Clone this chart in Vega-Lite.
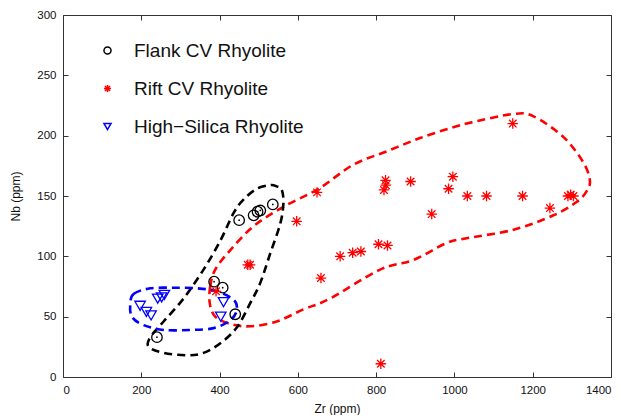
{
  "$schema": "https://vega.github.io/schema/vega-lite/v6.json",
  "width": 548,
  "height": 362,
  "padding": {"left": 9, "top": 9, "right": 16, "bottom": 0},
  "background": "white",
  "config": {
    "font": "Liberation Sans",
    "view": {"stroke": null},
    "axis": {
      "grid": false,
      "domainColor": "#333333",
      "tickColor": "#333333",
      "tickSize": -5,
      "labelFontSize": 11.5,
      "labelColor": "#111111",
      "titleFontSize": 12,
      "titleFontWeight": "normal",
      "titleColor": "#111111",
      "labelPadding": 12
    },
    "legend": {
      "labelFontSize": 19,
      "labelColor": "#111111",
      "labelFont": "Liberation Sans",
      "labelLimit": 400
    }
  },
  "datasets": {
    "pts": [
      {"zr": 240, "nb": 33, "group": "Flank CV Rhyolite"},
      {"zr": 450, "nb": 130, "group": "Flank CV Rhyolite"},
      {"zr": 487, "nb": 134, "group": "Flank CV Rhyolite"},
      {"zr": 497, "nb": 137, "group": "Flank CV Rhyolite"},
      {"zr": 504, "nb": 138, "group": "Flank CV Rhyolite"},
      {"zr": 536, "nb": 143, "group": "Flank CV Rhyolite"},
      {"zr": 386, "nb": 79, "group": "Flank CV Rhyolite"},
      {"zr": 408, "nb": 74, "group": "Flank CV Rhyolite"},
      {"zr": 440, "nb": 52, "group": "Flank CV Rhyolite"},
      {"zr": 391, "nb": 71, "group": "Rift CV Rhyolite"},
      {"zr": 472, "nb": 93, "group": "Rift CV Rhyolite"},
      {"zr": 478, "nb": 93, "group": "Rift CV Rhyolite"},
      {"zr": 597, "nb": 129, "group": "Rift CV Rhyolite"},
      {"zr": 649, "nb": 153, "group": "Rift CV Rhyolite"},
      {"zr": 824, "nb": 163, "group": "Rift CV Rhyolite"},
      {"zr": 825, "nb": 159, "group": "Rift CV Rhyolite"},
      {"zr": 820, "nb": 155, "group": "Rift CV Rhyolite"},
      {"zr": 888, "nb": 162, "group": "Rift CV Rhyolite"},
      {"zr": 996, "nb": 166, "group": "Rift CV Rhyolite"},
      {"zr": 985, "nb": 156, "group": "Rift CV Rhyolite"},
      {"zr": 1033, "nb": 150, "group": "Rift CV Rhyolite"},
      {"zr": 1082, "nb": 150, "group": "Rift CV Rhyolite"},
      {"zr": 942, "nb": 135, "group": "Rift CV Rhyolite"},
      {"zr": 708, "nb": 100, "group": "Rift CV Rhyolite"},
      {"zr": 740, "nb": 103, "group": "Rift CV Rhyolite"},
      {"zr": 761, "nb": 104, "group": "Rift CV Rhyolite"},
      {"zr": 806, "nb": 110, "group": "Rift CV Rhyolite"},
      {"zr": 829, "nb": 109, "group": "Rift CV Rhyolite"},
      {"zr": 659, "nb": 82, "group": "Rift CV Rhyolite"},
      {"zr": 812, "nb": 11, "group": "Rift CV Rhyolite"},
      {"zr": 1149, "nb": 210, "group": "Rift CV Rhyolite"},
      {"zr": 1174, "nb": 150, "group": "Rift CV Rhyolite"},
      {"zr": 1244, "nb": 140, "group": "Rift CV Rhyolite"},
      {"zr": 1290, "nb": 150, "group": "Rift CV Rhyolite"},
      {"zr": 1297, "nb": 151, "group": "Rift CV Rhyolite"},
      {"zr": 1304, "nb": 150, "group": "Rift CV Rhyolite"},
      {"zr": 197, "nb": 59, "group": "High\u2212Silica Rhyolite"},
      {"zr": 213, "nb": 54, "group": "High\u2212Silica Rhyolite"},
      {"zr": 225, "nb": 51, "group": "High\u2212Silica Rhyolite"},
      {"zr": 242, "nb": 65, "group": "High\u2212Silica Rhyolite"},
      {"zr": 252, "nb": 66, "group": "High\u2212Silica Rhyolite"},
      {"zr": 259, "nb": 68, "group": "High\u2212Silica Rhyolite"},
      {"zr": 410, "nb": 62, "group": "High\u2212Silica Rhyolite"},
      {"zr": 403, "nb": 50, "group": "High\u2212Silica Rhyolite"}
    ],
    "env": [
      {"env": "rift", "ord": 1, "zr": 375, "nb": 61},
      {"env": "rift", "ord": 2, "zr": 376, "nb": 75},
      {"env": "rift", "ord": 3, "zr": 389, "nb": 89},
      {"env": "rift", "ord": 4, "zr": 427, "nb": 105},
      {"env": "rift", "ord": 5, "zr": 487, "nb": 125},
      {"env": "rift", "ord": 6, "zr": 563, "nb": 141},
      {"env": "rift", "ord": 7, "zr": 653, "nb": 156},
      {"env": "rift", "ord": 8, "zr": 742, "nb": 176},
      {"env": "rift", "ord": 9, "zr": 827, "nb": 187},
      {"env": "rift", "ord": 10, "zr": 912, "nb": 198},
      {"env": "rift", "ord": 11, "zr": 997, "nb": 207},
      {"env": "rift", "ord": 12, "zr": 1044, "nb": 211},
      {"env": "rift", "ord": 13, "zr": 1151, "nb": 218},
      {"env": "rift", "ord": 14, "zr": 1202, "nb": 216},
      {"env": "rift", "ord": 15, "zr": 1278, "nb": 199},
      {"env": "rift", "ord": 16, "zr": 1329, "nb": 178},
      {"env": "rift", "ord": 17, "zr": 1346, "nb": 163},
      {"env": "rift", "ord": 18, "zr": 1338, "nb": 154},
      {"env": "rift", "ord": 19, "zr": 1312, "nb": 145},
      {"env": "rift", "ord": 20, "zr": 1253, "nb": 134},
      {"env": "rift", "ord": 21, "zr": 1151, "nb": 122},
      {"env": "rift", "ord": 22, "zr": 1031, "nb": 115},
      {"env": "rift", "ord": 23, "zr": 980, "nb": 111},
      {"env": "rift", "ord": 24, "zr": 895, "nb": 97},
      {"env": "rift", "ord": 25, "zr": 810, "nb": 89},
      {"env": "rift", "ord": 26, "zr": 682, "nb": 65},
      {"env": "rift", "ord": 27, "zr": 614, "nb": 56},
      {"env": "rift", "ord": 28, "zr": 546, "nb": 46},
      {"env": "rift", "ord": 29, "zr": 478, "nb": 42},
      {"env": "rift", "ord": 30, "zr": 427, "nb": 44},
      {"env": "rift", "ord": 31, "zr": 389, "nb": 50},
      {"env": "flank", "ord": 1, "zr": 546, "nb": 158},
      {"env": "flank", "ord": 2, "zr": 559, "nb": 155},
      {"env": "flank", "ord": 3, "zr": 563, "nb": 144},
      {"env": "flank", "ord": 4, "zr": 555, "nb": 127},
      {"env": "flank", "ord": 5, "zr": 529, "nb": 102},
      {"env": "flank", "ord": 6, "zr": 504, "nb": 78},
      {"env": "flank", "ord": 7, "zr": 478, "nb": 61},
      {"env": "flank", "ord": 8, "zr": 444, "nb": 41},
      {"env": "flank", "ord": 9, "zr": 402, "nb": 28},
      {"env": "flank", "ord": 10, "zr": 359, "nb": 20},
      {"env": "flank", "ord": 11, "zr": 317, "nb": 18},
      {"env": "flank", "ord": 12, "zr": 257, "nb": 20},
      {"env": "flank", "ord": 13, "zr": 219, "nb": 25},
      {"env": "flank", "ord": 14, "zr": 223, "nb": 33},
      {"env": "flank", "ord": 15, "zr": 257, "nb": 46},
      {"env": "flank", "ord": 16, "zr": 308, "nb": 65},
      {"env": "flank", "ord": 17, "zr": 359, "nb": 89},
      {"env": "flank", "ord": 18, "zr": 402, "nb": 113},
      {"env": "flank", "ord": 19, "zr": 436, "nb": 136},
      {"env": "flank", "ord": 20, "zr": 461, "nb": 147},
      {"env": "flank", "ord": 21, "zr": 495, "nb": 156},
      {"env": "flank", "ord": 22, "zr": 529, "nb": 159},
      {"env": "hs", "ord": 1, "zr": 172, "nb": 61},
      {"env": "hs", "ord": 2, "zr": 181, "nb": 69},
      {"env": "hs", "ord": 3, "zr": 223, "nb": 73.5},
      {"env": "hs", "ord": 4, "zr": 283, "nb": 74},
      {"env": "hs", "ord": 5, "zr": 342, "nb": 73.5},
      {"env": "hs", "ord": 6, "zr": 393, "nb": 71},
      {"env": "hs", "ord": 7, "zr": 436, "nb": 64},
      {"env": "hs", "ord": 8, "zr": 444, "nb": 55.5},
      {"env": "hs", "ord": 9, "zr": 427, "nb": 47},
      {"env": "hs", "ord": 10, "zr": 385, "nb": 40.5},
      {"env": "hs", "ord": 11, "zr": 325, "nb": 39},
      {"env": "hs", "ord": 12, "zr": 257, "nb": 39},
      {"env": "hs", "ord": 13, "zr": 206, "nb": 43},
      {"env": "hs", "ord": 14, "zr": 176, "nb": 50}
    ]
  },
  "layer": [
    {
      "data": {"name": "env"},
      "mark": {"type": "line", "interpolate": "cardinal-closed", "strokeDash": [8, 5], "strokeWidth": 2.6},
      "encoding": {
        "x": {"field": "zr", "type": "quantitative", "scale": {"domain": [0, 1400], "nice": false, "zero": false},
              "axis": {"orient": "top", "labels": false, "title": null, "values": [0, 200, 400, 600, 800, 1000, 1200, 1400]}},
        "y": {"field": "nb", "type": "quantitative", "scale": {"domain": [0, 300], "nice": false},
              "axis": {"orient": "right", "labels": false, "title": null, "values": [0, 50, 100, 150, 200, 250, 300]}},
        "detail": {"field": "env", "type": "nominal"},
        "stroke": {"field": "env", "type": "nominal", "scale": {"domain": ["flank", "rift", "hs"], "range": ["#000000", "#ff0000", "#0000ff"]}, "legend": null},
        "order": {"field": "ord", "type": "quantitative"}
      }
    },
    {
      "data": {"name": "pts"},
      "mark": {"type": "point", "filled": false, "strokeWidth": 1.3, "size": 110, "opacity": 1},
      "encoding": {
        "x": {"field": "zr", "type": "quantitative",
              "axis": {"orient": "bottom", "title": "Zr (ppm)", "format": "d", "values": [0, 200, 400, 600, 800, 1000, 1200, 1400], "titlePadding": 8}},
        "y": {"field": "nb", "type": "quantitative",
              "axis": {"orient": "left", "title": "Nb (ppm)", "format": "d", "values": [0, 50, 100, 150, 200, 250, 300], "titlePadding": 14}},
        "color": {"field": "group", "type": "nominal",
                  "scale": {"domain": ["Flank CV Rhyolite", "Rift CV Rhyolite", "High\u2212Silica Rhyolite"], "range": ["#000000", "#ff0000", "#0000ff"]},
                  "legend": {"title": null, "orient": "none", "legendX": 35, "legendY": 26, "symbolSize": 50, "symbolStrokeWidth": 1.5, "labelOffset": 17, "rowPadding": 18, "padding": 0}},
        "shape": {"field": "group", "type": "nominal",
                  "scale": {"domain": ["Flank CV Rhyolite", "Rift CV Rhyolite", "High\u2212Silica Rhyolite"],
                            "range": ["circle", "M-1,0L1,0M0,-1L0,1M-0.72,-0.72L0.72,0.72M-0.72,0.72L0.72,-0.72", "triangle-down"]},
                  "legend": {"title": null, "orient": "none", "legendX": 35, "legendY": 26, "symbolSize": 50, "symbolStrokeWidth": 1.5, "labelOffset": 17, "rowPadding": 18, "padding": 0}}
      }
    },
    {
      "data": {"name": "pts"},
      "transform": [{"filter": "datum.group === 'Flank CV Rhyolite'"}],
      "mark": {"type": "point", "filled": true, "size": 3, "color": "#000000", "opacity": 1},
      "encoding": {
        "x": {"field": "zr", "type": "quantitative", "axis": null},
        "y": {"field": "nb", "type": "quantitative", "axis": null}
      }
    }
  ],
  "resolve": {"axis": {"x": "independent", "y": "independent"}}
}
